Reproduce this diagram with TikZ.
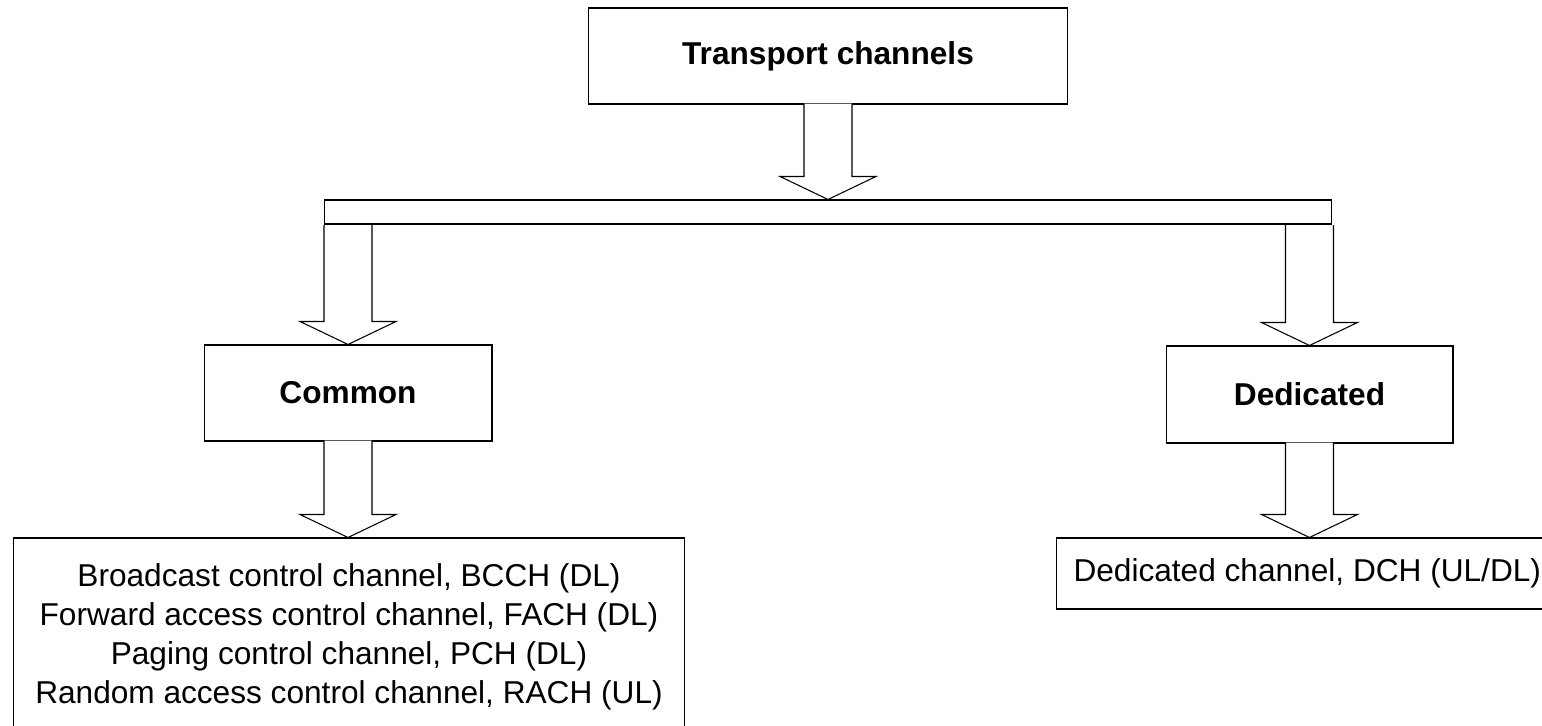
\documentclass[tikz,border=0pt]{standalone}
\usepackage{fontspec}
\setmainfont{Liberation Sans}
\usetikzlibrary{calc}

\tikzset{
  chbox/.style={draw, line width=0.6pt, inner sep=0pt, font=\fontsize{18}{22.2}\selectfont},
  fatarrow/.style={draw, fill=white, line width=0.6pt, line join=miter},
}
% hollow block arrow: #2 = start on the box, #3 = tip, #1 = shift of the open end
\newcommand{\fatarrow}[3][-1]{%
  \path[fatarrow] ($(#2)+(-24,#1)$) -- ($(#3)+(-24,-23)$) -- ($(#3)+(-48,-23)$) -- (#3)
    -- ($(#3)+(48,-23)$) -- ($(#3)+(24,-23)$) -- ($(#2)+(24,#1)$);
}

\begin{document}
\begin{tikzpicture}[x=0.02cm, y=-0.02cm]
    \useasboundingbox (0,0) rectangle (1542,726);
    \clip (0,0) rectangle (1542,726);

    % channel boxes
    \node[chbox, minimum width=9.6cm, minimum height=1.92cm] (transport) at (828,56) {\bfseries Transport channels};
    \node[chbox, minimum width=20.16cm, minimum height=0.48cm] (bar) at (828,212) {};
    \node[chbox, minimum width=5.76cm, minimum height=1.92cm] (common) at (348,393) {\bfseries Common};
    \node[chbox, minimum width=5.74cm, minimum height=1.94cm] (dedicated) at (1309.5,394.5) {\bfseries Dedicated};
    \node[chbox, minimum width=13.44cm, minimum height=3.96cm, align=center] (list) at (349,637)
        {Broadcast control channel, BCCH (DL)\\
         Forward access control channel, FACH (DL)\\
         Paging control channel, PCH (DL)\\
         Random access control channel, RACH (UL)};
    \node[chbox, anchor=west, minimum height=1.42cm, inner xsep=0.34cm] (dch) at (1056,573.5)
        {Dedicated channel, DCH (UL/DL)};

    % block arrows
    \fatarrow{transport.south}{transport.south |- bar.north}
    \fatarrow[0.5]{bar.south -| common.north}{common.north}
    \fatarrow[0.5]{bar.south -| dedicated.north}{dedicated.north}
    \fatarrow{common.south}{common.south |- list.north}
    \fatarrow{dedicated.south}{dedicated.south |- dch.north}
\end{tikzpicture}
\end{document}
